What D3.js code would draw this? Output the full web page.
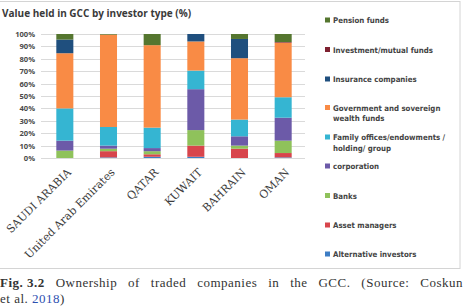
<!DOCTYPE html>
<html>
<head>
<meta charset="utf-8">
<script src="https://cdn.jsdelivr.net/npm/d3@7"></script>
<style>
  html, body { margin: 0; padding: 0; background: #fff; overflow: hidden; }
  svg { display: block; }
</style>
</head>
<body>
<div id="chart"></div>
<script>
// Countries on the x axis
const countries = ['SAUDI ARABIA', 'United Arab Emirates', 'QATAR', 'KUWAIT', 'BAHRAIN', 'OMAN'];

// Series, stacked bottom to top (values in %)
const alternativeInvestors = [0, 0.5, 1, 1, 0, 0.5];
const assetManagers = [0, 5, 2, 9, 7.5, 3.5];
const banks = [6, 2, 2.5, 12.5, 2.5, 10];
const corporation = [8, 2.5, 2.5, 33, 7.5, 18.5];
const familyOffices = [26, 15, 16.5, 15, 13.5, 16.5];
const governmentFunds = [44.5, 74.5, 66.5, 23.5, 49.5, 44];
const insuranceCompanies = [11, 0, 0, 6, 15.5, 0];
const investmentFunds = [0, 0, 0, 0, 0, 0.5];
const pensionFunds = [4.5, 0.5, 9, 0, 4, 6.5];

const yTicks = [0, 10, 20, 30, 40, 50, 60, 70, 80, 90, 100];

const series = [
  { key: 'alt', label: ['Alternative investors'], values: alternativeInvestors, color: '#3d7dc4' },
  { key: 'asset', label: ['Asset managers'], values: assetManagers, color: '#d8454c' },
  { key: 'banks', label: ['Banks'], values: banks, color: '#8fc25b' },
  { key: 'corp', label: ['corporation'], values: corporation, color: '#6c5aa8' },
  { key: 'family', label: ['Family offices/endowments /', 'holding/ group'], values: familyOffices, color: '#35b5d2' },
  { key: 'gov', label: ['Government and sovereign', 'wealth funds'], values: governmentFunds, color: '#f98b45' },
  { key: 'ins', label: ['Insurance companies'], values: insuranceCompanies, color: '#1f4f7e' },
  { key: 'inv', label: ['Investment/mutual funds'], values: investmentFunds, color: '#7e2130' },
  { key: 'pension', label: ['Pension funds'], values: pensionFunds, color: '#55762f' }
];

const W = 464, H = 306;
const plot = { left: 43, right: 305, top: 34, bottom: 158 };

const svg = d3.select('#chart')
  .append('svg')
  .attr('width', W)
  .attr('height', H);

// frame round the figure
svg.append('rect')
  .attr('x', -2).attr('y', 1.5)
  .attr('width', 462).attr('height', 267)
  .attr('fill', 'none')
  .attr('stroke', '#d4d4d4')
  .attr('stroke-width', 1);

// Title
svg.append('text')
  .attr('x', 2).attr('y', 16.5)
  .attr('font-family', 'Open Sans, sans-serif')
  .attr('font-weight', 700)
  .attr('font-size', 10)
  .attr('fill', '#3a3a3a')
  .text('Value held in GCC by investor type (%)');

// Scales
const x = d3.scaleBand()
  .domain(countries)
  .range([plot.left, plot.right])
  .paddingInner(0.61)
  .paddingOuter(0.305);

const y = d3.scaleLinear()
  .domain([0, 100])
  .range([plot.bottom, plot.top]);

// Grid
svg.append('g')
  .selectAll('line')
  .data(yTicks)
  .enter()
  .append('line')
  .attr('x1', plot.left - 2)
  .attr('x2', plot.right)
  .attr('y1', d => Math.round(y(d)) + 0.5)
  .attr('y2', d => Math.round(y(d)) + 0.5)
  .attr('stroke', '#dadada')
  .attr('stroke-width', 1);

// Y axis labels
const yAxis = d3.axisLeft(y)
  .tickValues(yTicks)
  .tickFormat(d => d + '%')
  .tickSize(0)
  .tickPadding(0);
const aY = svg.append('g')
  .attr('transform', 'translate(35,0)')
  .call(yAxis);
aY.select('.domain').remove();
aY.selectAll('text')
  .attr('font-family', 'Open Sans, sans-serif')
  .attr('font-weight', 700)
  .attr('font-size', 7.6)
  .attr('fill', '#4a4a4a');

// Stack
const table = countries.map((c, i) => {
  const row = { country: c };
  series.forEach(s => { row[s.key] = s.values[i]; });
  return row;
});
const stacked = d3.stack().keys(series.map(s => s.key))(table);

const layers = svg.append('g')
  .selectAll('g')
  .data(stacked)
  .enter()
  .append('g')
  .attr('fill', (d, i) => series[i].color);

layers.selectAll('rect')
  .data(d => d)
  .enter()
  .append('rect')
  .attr('x', d => x(d.data.country))
  .attr('width', x.bandwidth())
  .attr('y', d => y(d[1]))
  .attr('height', d => Math.max(0, y(d[0]) - y(d[1])));

// X axis labels (rotated)
const xAxis = d3.axisBottom(x).tickSize(0).tickPadding(0);
const aX = svg.append('g')
  .attr('transform', 'translate(0,' + plot.bottom + ')')
  .call(xAxis);
aX.select('.domain').remove();
aX.selectAll('text')
  .attr('font-family', 'DejaVu Serif, serif')
  .attr('font-size', 11)
  .attr('fill', '#3c3c3c')
  .attr('text-anchor', 'end')
  .attr('dy', 0)
  .attr('transform', 'translate(7,15) rotate(-45)');

// Legend
const legendY = [20, 49.5, 79, 107.5, 137, 166, 195.5, 225, 254];
const legendSeries = series.slice().reverse();
const legend = svg.append('g')
  .selectAll('g')
  .data(legendSeries)
  .enter()
  .append('g')
  .attr('transform', (d, i) => 'translate(325,' + legendY[i] + ')');

legend.append('rect')
  .attr('x', 0).attr('y', -2.5)
  .attr('width', 5).attr('height', 5)
  .attr('fill', d => d.color);

legend.append('text')
  .attr('x', 8)
  .attr('y', 3)
  .attr('font-family', 'DejaVu Sans Condensed, sans-serif')
  .attr('font-weight', 700)
  .attr('font-size', 7.8)
  .attr('fill', '#444')
  .selectAll('tspan')
  .data(d => d.label)
  .enter()
  .append('tspan')
  .attr('x', 8)
  .attr('dy', (d, i) => (i === 0 ? 0 : 10.5))
  .text(d => d);

// Caption, first line justified across the page
const capWords = [
  { t: 'Fig. 3.2', bold: true },
  { t: 'Ownership' }, { t: 'of' }, { t: 'traded' }, { t: 'companies' },
  { t: 'in' }, { t: 'the' }, { t: 'GCC.' }, { t: '(Source:' }, { t: 'Coskun' }
];
const cap = svg.append('g')
  .attr('font-family', 'Liberation Serif, serif')
  .attr('font-size', 13)
  .attr('letter-spacing', 0.5)
  .attr('fill', '#333');

const wordNodes = cap.selectAll('text.w')
  .data(capWords)
  .enter()
  .append('text')
  .attr('class', 'w')
  .attr('y', 287)
  .attr('font-weight', d => (d.bold ? 700 : 400))
  .text(d => d.t);
const widths = wordNodes.nodes().map(n => n.getComputedTextLength());
const lineStart = 0, lineEnd = 463;
const gap = (lineEnd - lineStart - d3.sum(widths)) / (capWords.length - 1);
let cx = lineStart;
wordNodes.attr('x', (d, i) => {
  const pos = cx;
  cx += widths[i] + gap;
  return pos;
});

const line2 = cap.append('text').attr('x', 0).attr('y', 303);
line2.append('tspan').text('et al. ');
line2.append('tspan').attr('fill', '#2d4fb0').text('2018');
line2.append('tspan').text(')');
</script>
</body>
</html>
